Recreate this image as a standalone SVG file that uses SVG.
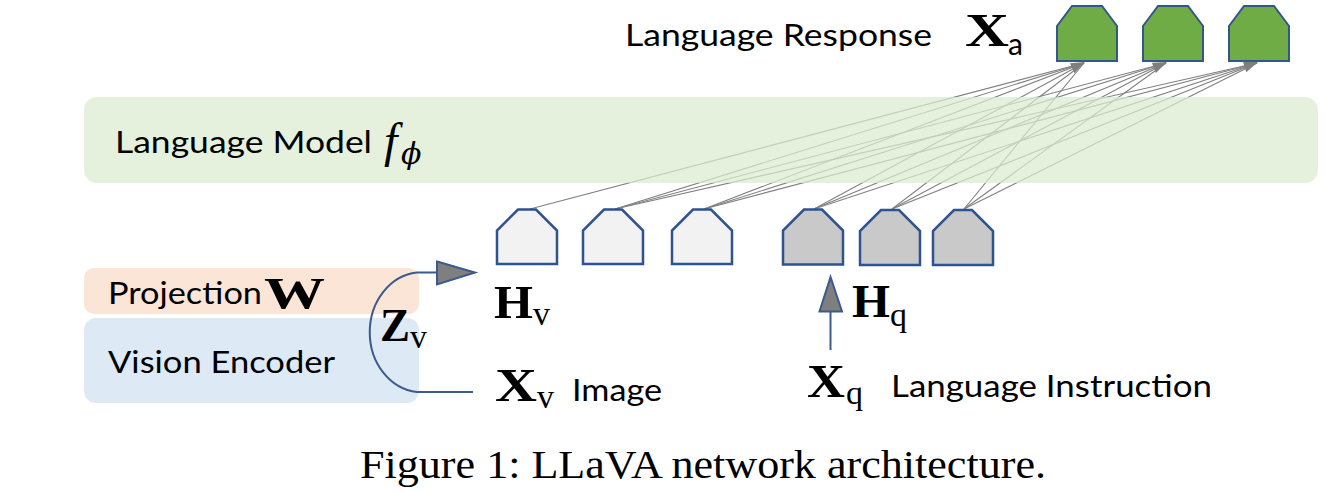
<svg xmlns="http://www.w3.org/2000/svg" width="1344" height="493" viewBox="0 0 1344 493">
<style>
.sans{font-family:Lato,"Noto Sans","Liberation Sans",sans-serif;fill:#000}
.bf{font-family:"Liberation Serif","DejaVu Serif",serif;font-weight:bold;fill:#000}
.tt{font-family:"Liberation Serif","DejaVu Serif",serif;fill:#000}
.ta{font-family:Lato,"Liberation Sans",sans-serif;fill:#000}
.it{font-family:"Liberation Serif","DejaVu Serif",serif;font-style:italic;fill:#000}
.hid{fill:#f2f2f2;stroke:#2f5290;stroke-width:2.5;stroke-linejoin:miter}
.hidq{fill:#c9c9c9;stroke:#2f5290;stroke-width:2.5}
.out{fill:#6fac46;stroke:#34568c;stroke-width:2}
.fan{stroke:#808080;stroke-width:1.1;fill:none}
.ah{fill:#7f7f7f}
.blue{stroke:#3b5a8e;stroke-width:2;fill:none}
.bah{fill:#7f7f7f;stroke:#3b5a8e;stroke-width:2;stroke-linejoin:miter}
</style>

<g id="connectors">
<g id="fan-lines">
<line class="fan" x1="530" y1="209" x2="1084" y2="63"/>
<line class="fan" x1="615" y1="209" x2="1084" y2="63"/>
<line class="fan" x1="615" y1="209" x2="1166" y2="63"/>
<line class="fan" x1="615" y1="209" x2="1257" y2="63"/>
<line class="fan" x1="704" y1="209" x2="1084" y2="63"/>
<line class="fan" x1="704" y1="209" x2="1166" y2="63"/>
<line class="fan" x1="704" y1="209" x2="1257" y2="63"/>
<line class="fan" x1="814" y1="209" x2="1084" y2="63"/>
<line class="fan" x1="814" y1="209" x2="1166" y2="63"/>
<line class="fan" x1="814" y1="209" x2="1257" y2="63"/>
<line class="fan" x1="892" y1="209" x2="1084" y2="63"/>
<line class="fan" x1="892" y1="209" x2="1166" y2="63"/>
<line class="fan" x1="892" y1="209" x2="1257" y2="63"/>
<line class="fan" x1="964" y1="209" x2="1084" y2="63"/>
<line class="fan" x1="964" y1="209" x2="1166" y2="63"/>
<line class="fan" x1="964" y1="209" x2="1257" y2="63"/>
</g>
</g>

<g id="language-model">
<rect x="84" y="97" width="1234" height="86" rx="13" fill="#dcebd0" fill-opacity="0.72"/>
<text class="sans" x="115" y="153" font-size="31" textLength="257" lengthAdjust="spacingAndGlyphs">Language Model</text>
<text class="it" x="384" y="157" font-size="48">f</text>
<text x="401" y="164" font-size="30" font-family="'DejaVu Serif',serif" font-style="italic" fill="#000">ϕ</text>
</g>

<g id="projection">
<rect x="84" y="268" width="335" height="46" rx="10" fill="#fbe5d6"/>
<text class="sans" x="108" y="304" font-size="30" textLength="154" lengthAdjust="spacingAndGlyphs">Projection</text>
<text class="bf" x="264" y="308" font-size="44" textLength="61" lengthAdjust="spacingAndGlyphs">W</text>
</g>

<g id="vision-encoder">
<rect x="84" y="318" width="335" height="85" rx="12" fill="#dde9f5"/>
<text class="sans" x="108" y="373" font-size="30" textLength="227" lengthAdjust="spacingAndGlyphs">Vision Encoder</text>
</g>

<g id="zv-connector">
<path class="blue" d="M473,392 L417,392 A52,60 0 0 1 417,272.5 L440,272.5"/>
<polygon class="bah" points="437,261.5 475,272.5 437,284.5"/>
<text class="bf" x="380" y="341" font-size="46" textLength="30" lengthAdjust="spacingAndGlyphs">Z</text>
<text class="tt" x="410" y="348" font-size="34">v</text>
</g>

<g id="hv-tokens">
<path class="hid" d="M497,264 V230.5 L518,209.5 H536 L557,230.5 V264 Z"/>
<path class="hid" d="M583,264 V230.5 L604,209.5 H622 L643,230.5 V264 Z"/>
<path class="hid" d="M672,264 V230.5 L693,209.5 H711 L732,230.5 V264 Z"/>
<text class="bf" x="494" y="318" font-size="46" textLength="39" lengthAdjust="spacingAndGlyphs">H</text>
<text class="tt" x="533" y="325" font-size="34">v</text>
</g>

<g id="hq-tokens">
<path class="hidq" d="M783,264.5 V230.5 L804,209.5 H822 L843,230.5 V264.5 Z"/>
<path class="hidq" d="M860,265 V231 L881,210 H899 L920,231 V265 Z"/>
<path class="hidq" d="M933,265 V231 L954,210 H972 L993,231 V265 Z"/>
<text class="bf" x="852" y="317" font-size="46" textLength="38" lengthAdjust="spacingAndGlyphs">H</text>
<text class="tt" x="890" y="326" font-size="34">q</text>
</g>

<g id="xq-connector">
<line class="blue" x1="830.5" y1="350" x2="830.5" y2="310"/>
<polygon class="bah" points="830.5,277 819.5,311.5 842,311.5"/>
</g>

<g id="image-input">
<text class="bf" x="495" y="401" font-size="46" textLength="42" lengthAdjust="spacingAndGlyphs">X</text>
<text class="tt" x="537" y="408" font-size="34">v</text>
<text class="sans" x="572" y="401" font-size="31" textLength="90" lengthAdjust="spacingAndGlyphs">Image</text>
</g>

<g id="instruction-input">
<text class="bf" x="807" y="397" font-size="46" textLength="38" lengthAdjust="spacingAndGlyphs">X</text>
<text class="tt" x="846" y="404" font-size="34">q</text>
<text class="sans" x="891" y="397" font-size="31" textLength="321" lengthAdjust="spacingAndGlyphs">Language Instruction</text>
</g>

<g id="response-tokens">
<path class="out" d="M1057,61 V26 L1072,6 H1102 L1117,26 V61 Z"/>
<path class="out" d="M1143,61 V26 L1158,6 H1188 L1203,26 V61 Z"/>
<path class="out" d="M1229,61 V26 L1244,6 H1274 L1289,26 V61 Z"/>
<polygon class="ah" points="1085,62 1074.3,73.3 1069.9,63.2"/>
<polygon class="ah" points="1167,62 1155.9,72.9 1151.9,62.7"/>
<polygon class="ah" points="1258,62 1246.3,72.2 1243,61.7"/>
</g>

<g id="response-label">
<text class="sans" x="625" y="46" font-size="31" textLength="307" lengthAdjust="spacingAndGlyphs">Language Response</text>
<text class="bf" x="965" y="46" font-size="46" textLength="44" lengthAdjust="spacingAndGlyphs">X</text>
<text class="ta" x="1008" y="55" font-size="30">a</text>
</g>

<g id="caption">
<text x="703" y="478" font-family="'Liberation Serif','Times New Roman',serif" font-size="40" text-anchor="middle" textLength="686" lengthAdjust="spacingAndGlyphs" fill="#000">Figure 1: LLaVA network architecture.</text>
</g>
</svg>
